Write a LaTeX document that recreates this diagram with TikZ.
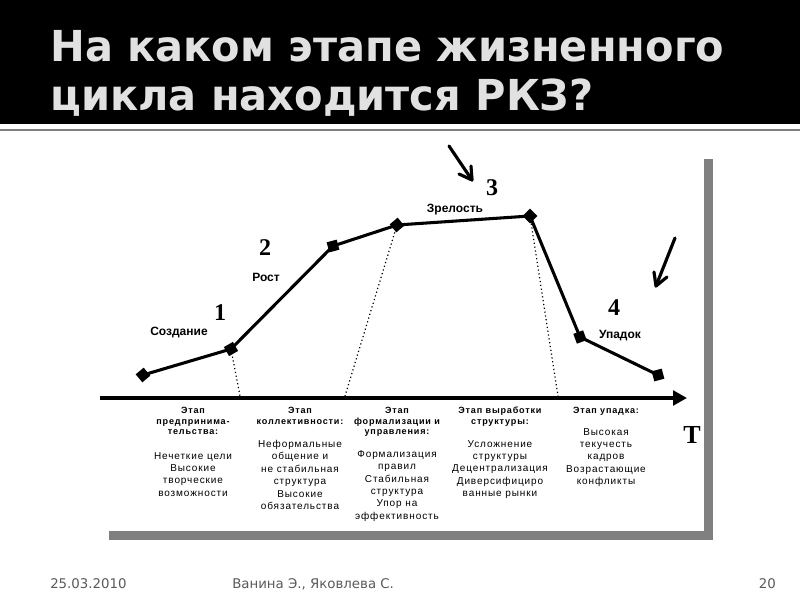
\documentclass[tikz,border=0pt]{standalone}
\usepackage{fontspec}
\setmainfont{Liberation Sans}
\newfontfamily\ttlfont{DejaVu Sans}
\newfontfamily\ftfont{DejaVu Sans}
\newfontfamily\numfont{Liberation Serif}
\newfontfamily\smallfont[LetterSpace=9]{Liberation Sans}
\usetikzlibrary{arrows.meta}
\definecolor{titlegray}{RGB}{225,225,225}
\definecolor{shadowgray}{RGB}{128,128,128}
\definecolor{footgray}{RGB}{90,90,90}
\newcommand{\ttl}[1]{\scalebox{0.973}[1]{#1}}
\begin{document}
\begin{tikzpicture}[x=0.75pt,y=-0.75pt,
  title/.style={text=titlegray, font=\ttlfont\bfseries\fontsize{32}{38}\selectfont, inner sep=0, anchor=base west},
  curve/.style={line width=2.3pt, line join=round},
  marker/.style={draw=none, fill=black, rectangle, minimum size=7.8pt, inner sep=0},
  guide/.style={dotted, line width=0.9pt},
  hand/.style={line width=2.3pt, line cap=round, line join=round},
  handsh/.style={hand, draw=gray!60},
  num/.style={font=\numfont\bfseries\fontsize{18}{20}\selectfont, inner sep=0},
  stage/.style={font=\bfseries\fontsize{9}{10}\selectfont, inner sep=0},
  head/.style={font=\smallfont\bfseries\fontsize{6.8}{8}\selectfont, align=center, inner sep=0, anchor=north},
  body/.style={font=\smallfont\fontsize{7.5}{9.3}\selectfont, align=center, inner sep=0, anchor=north},
  foot/.style={font=\ftfont\fontsize{10}{12}\selectfont, text=footgray, inner sep=0, anchor=base west}
]
\useasboundingbox (0,0) rectangle (800,600);
\fill[white] (0,0) rectangle (800,600);
% title bar
\fill[black] (0,0) rectangle (800,124);
\draw[shadowgray, line width=1.5pt] (0,130) -- (800,130);
\node[title] (t1) at (50,61) {\ttl{На каком этапе жизненного}};
\node[title] (t2) at (50,110) {\ttl{цикла находится РКЗ?}};
% picture frame with shadow
\fill[shadowgray] (109,159) rectangle (713,540);
\fill[white] (100,150) rectangle (704,531);
% axis
\coordinate (a0) at (100,398);
\coordinate (a1) at (687,398);
\draw[line width=3.6pt, -{Triangle[length=10.5pt,width=11pt]}] (a0) -- (a1);
% curve points
\coordinate (p1) at (143,375);
\coordinate (p2) at (231,349);
\coordinate (p3) at (333,246);
\coordinate (p4) at (397,225);
\coordinate (p5) at (530,216);
\coordinate (p6) at (580,337);
\coordinate (p7) at (658,375);
% dotted guides
\coordinate (d1) at (240,396);
\coordinate (d2) at (345,396);
\coordinate (d3) at (558,396);
\draw[guide] (p2) -- (d1);
\draw[guide] (p4) -- (d2);
\draw[guide] (p5) -- (d3);
\draw[curve] (p1) -- (p2) -- (p3) -- (p4) -- (p5) -- (p6) -- (p7);
\node[marker, rotate=40] (m1) at (p1) {};
\node[marker, rotate=30] (m2) at (p2) {};
\node[marker, rotate=15] (m3) at (p3) {};
\node[marker, rotate=40] (m4) at (p4) {};
\node[marker, rotate=45] (m5) at (p5) {};
\node[marker, rotate=20] (m6) at (p6) {};
\node[marker, rotate=15] (m7) at (p7) {};
% hand-drawn arrows
\coordinate (h1t) at (449,146);
\coordinate (h1h) at (472,180);
\coordinate (h1a) at (459,174);
\coordinate (h1b) at (471,166);
\coordinate (h2t) at (675,238);
\coordinate (h2h) at (656,286);
\coordinate (h2a) at (654,272);
\coordinate (h2b) at (667,277);
\begin{scope}[shift={(2,2)}]
\draw[handsh] (h1t) -- (h1h);
\draw[handsh] (h1a) -- (h1h) -- (h1b);
\draw[handsh] (h2t) -- (h2h);
\draw[handsh] (h2a) -- (h2h) -- (h2b);
\end{scope}
\draw[hand] (h1t) -- (h1h);
\draw[hand] (h1a) -- (h1h) -- (h1b);
\draw[hand] (h2t) -- (h2h);
\draw[hand] (h2a) -- (h2h) -- (h2b);
% numbers and stage names
\node[num] (n1) at (220,313) {1};
\node[num] (n2) at (265,248) {2};
\node[num] (n3) at (492,188) {3};
\node[num] (n4) at (614,308) {4};
\node[num, font=\numfont\bfseries\fontsize{19.5}{22}\selectfont] (nt) at (692,435) {T};
\node[stage] (s1) at (179,333) {Создание};
\node[stage] (s2) at (266,277) {Рост};
\node[stage] (s3) at (455,210) {Зрелость};
\node[stage] (s4) at (620,336) {Упадок};
% stage descriptions
\node[head] (c1h) at (193,407) {Этап\\предпринима-\\тельства:};
\node[body] (c1b) at (193,452) {Нечеткие цели\\Высокие\\творческие\\возможности};
\node[head] (c2h) at (300,407) {Этап\\коллективности:};
\node[body] (c2b) at (300,440) {Неформальные\\общение и\\не стабильная\\структура\\Высокие\\обязательства};
\node[head] (c3h) at (397,407) {Этап\\формализации и\\управления:};
\node[body] (c3b) at (397,450) {Формализация\\правил\\Стабильная\\структура\\Упор на\\эффективность};
\node[head] (c4h) at (500,407) {Этап выработки\\структуры:};
\node[body] (c4b) at (500,440) {Усложнение\\структуры\\Децентрализация\\Диверсифициро\\ванные рынки};
\node[head] (c5h) at (606,407) {Этап упадка:};
\node[body] (c5b) at (606,428) {Высокая\\текучесть\\кадров\\Возрастающие\\конфликты};
% footer
\node[foot] (f1) at (50,588) {25.03.2010};
\node[foot] (f2) at (232,588) {Ванина Э., Яковлева С.};
\node[foot, anchor=base east] (f3) at (776,588) {20};
\end{tikzpicture}
\end{document}
